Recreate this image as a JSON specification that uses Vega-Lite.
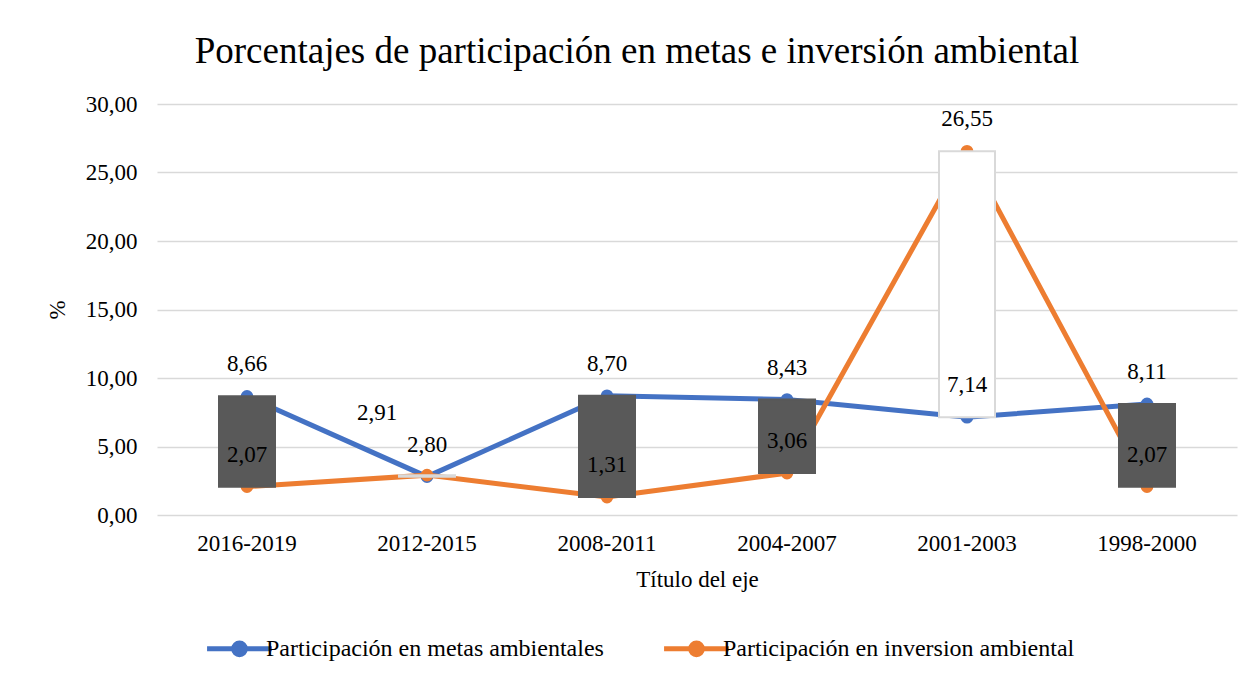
{
  "$schema": "https://vega.github.io/schema/vega-lite/v6.json",
  "width": 1080,
  "height": 411,
  "autosize": {"type": "none"},
  "padding": {"left": 157, "top": 104, "right": 19, "bottom": 166},
  "background": "white",
  "title": {
    "text": "Porcentajes de participación en metas e inversión ambiental",
    "font": "Liberation Serif",
    "fontSize": 37,
    "fontWeight": "normal",
    "color": "#000000",
    "anchor": "middle",
    "dx": -60,
    "offset": 22
  },
  "config": {
    "view": {"stroke": null},
    "font": "Liberation Serif",
    "locale": {
      "number": {"decimal": ",", "thousands": ".", "grouping": [3], "currency": ["", " €"]}
    }
  },
  "datasets": {
    "series": [
      {"periodo": "2016-2019", "serie": "Participación en metas ambientales", "valor": 8.66},
      {"periodo": "2012-2015", "serie": "Participación en metas ambientales", "valor": 2.80},
      {"periodo": "2008-2011", "serie": "Participación en metas ambientales", "valor": 8.70},
      {"periodo": "2004-2007", "serie": "Participación en metas ambientales", "valor": 8.43},
      {"periodo": "2001-2003", "serie": "Participación en metas ambientales", "valor": 7.14},
      {"periodo": "1998-2000", "serie": "Participación en metas ambientales", "valor": 8.11},
      {"periodo": "2016-2019", "serie": "Participación en inversion ambiental", "valor": 2.07},
      {"periodo": "2012-2015", "serie": "Participación en inversion ambiental", "valor": 2.91},
      {"periodo": "2008-2011", "serie": "Participación en inversion ambiental", "valor": 1.31},
      {"periodo": "2004-2007", "serie": "Participación en inversion ambiental", "valor": 3.06},
      {"periodo": "2001-2003", "serie": "Participación en inversion ambiental", "valor": 26.55},
      {"periodo": "1998-2000", "serie": "Participación en inversion ambiental", "valor": 2.07}
    ],
    "barras": [
      {"periodo": "2016-2019", "bajo": 2.07, "alto": 8.66, "tipo": "baja"},
      {"periodo": "2012-2015", "bajo": 2.80, "alto": 2.91, "tipo": "sube"},
      {"periodo": "2008-2011", "bajo": 1.31, "alto": 8.70, "tipo": "baja"},
      {"periodo": "2004-2007", "bajo": 3.06, "alto": 8.43, "tipo": "baja"},
      {"periodo": "2001-2003", "bajo": 7.14, "alto": 26.55, "tipo": "sube"},
      {"periodo": "1998-2000", "bajo": 2.07, "alto": 8.11, "tipo": "baja"}
    ]
  },
  "encoding": {
    "x": {
      "field": "periodo",
      "type": "nominal",
      "sort": ["2016-2019", "2012-2015", "2008-2011", "2004-2007", "2001-2003", "1998-2000"],
      "scale": {"paddingInner": 0, "paddingOuter": 0},
      "axis": {
        "title": "Título del eje",
        "labelAngle": 0,
        "labelFont": "Liberation Serif",
        "labelFontSize": 23,
        "labelColor": "#000000",
        "labelPadding": 17,
        "titleFont": "Liberation Serif",
        "titleFontSize": 23,
        "titleFontWeight": "normal",
        "titleColor": "#000000",
        "titlePadding": 13,
        "domain": false,
        "ticks": false,
        "grid": false
      }
    }
  },
  "layer": [
    {
      "data": {"name": "series"},
      "mark": {"type": "line", "strokeWidth": 5},
      "encoding": {
        "y": {
          "field": "valor",
          "type": "quantitative",
          "scale": {"domain": [0, 30], "nice": false},
          "axis": {
            "title": "%",
            "values": [0, 5, 10, 15, 20, 25, 30],
            "format": ".2f",
            "labelFont": "Liberation Serif",
            "labelFontSize": 23,
            "labelColor": "#000000",
            "labelPadding": 20,
            "titleFont": "Liberation Serif",
            "titleFontSize": 23,
            "titleFontWeight": "normal",
            "titleColor": "#000000",
            "titlePadding": 16,
            "domain": false,
            "ticks": false,
            "grid": true,
            "gridColor": "#d9d9d9",
            "gridWidth": 1.5
          }
        },
        "color": {
          "field": "serie",
          "type": "nominal",
          "sort": ["Participación en metas ambientales", "Participación en inversion ambiental"],
          "scale": {
            "domain": ["Participación en metas ambientales", "Participación en inversion ambiental"],
            "range": ["#4472C4", "#ED7D31"]
          },
          "legend": {
            "title": null,
            "orient": "none",
            "legendX": 58,
            "legendY": 520,
            "direction": "horizontal",
            "labelFont": "Liberation Serif",
            "labelFontSize": 24,
            "labelColor": "#000000",
            "labelOffset": 2,
            "labelLimit": 500,
            "columnPadding": 50,
            "symbolType": "M -1.5 0 L 1.5 0 M 0.27 0 A 0.27 0.27 0 1 1 -0.27 0 A 0.27 0.27 0 1 1 0.27 0",
            "symbolSize": 1870,
            "symbolStrokeWidth": 5
          }
        }
      }
    },
    {
      "data": {"name": "series"},
      "mark": {"type": "circle", "size": 160, "opacity": 1},
      "encoding": {
        "y": {"field": "valor", "type": "quantitative"},
        "color": {"field": "serie", "type": "nominal", "legend": null}
      }
    },
    {
      "data": {"name": "barras"},
      "mark": {"type": "bar", "width": 56, "strokeWidth": 2},
      "encoding": {
        "y": {"field": "bajo", "type": "quantitative"},
        "y2": {"field": "alto"},
        "fill": {
          "condition": {"test": "datum.tipo === 'baja'", "value": "#595959"},
          "value": "#ffffff"
        },
        "stroke": {
          "condition": {"test": "datum.tipo === 'baja'", "value": "#595959"},
          "value": "#d9d9d9"
        }
      }
    },
    {
      "data": {"name": "series"},
      "transform": [{"filter": "datum.periodo !== '2012-2015' || datum.valor < 2.85"}],
      "mark": {"type": "text", "dy": -32, "font": "Liberation Serif", "fontSize": 23, "color": "#000000"},
      "encoding": {
        "y": {"field": "valor", "type": "quantitative"},
        "text": {"field": "valor", "type": "quantitative", "format": ".2f"}
      }
    },
    {
      "data": {"name": "series"},
      "transform": [{"filter": "datum.periodo === '2012-2015' && datum.valor > 2.85"}],
      "mark": {"type": "text", "dx": -50, "dy": -62, "font": "Liberation Serif", "fontSize": 23, "color": "#000000"},
      "encoding": {
        "y": {"field": "valor", "type": "quantitative"},
        "text": {"field": "valor", "type": "quantitative", "format": ".2f"}
      }
    }
  ]
}
